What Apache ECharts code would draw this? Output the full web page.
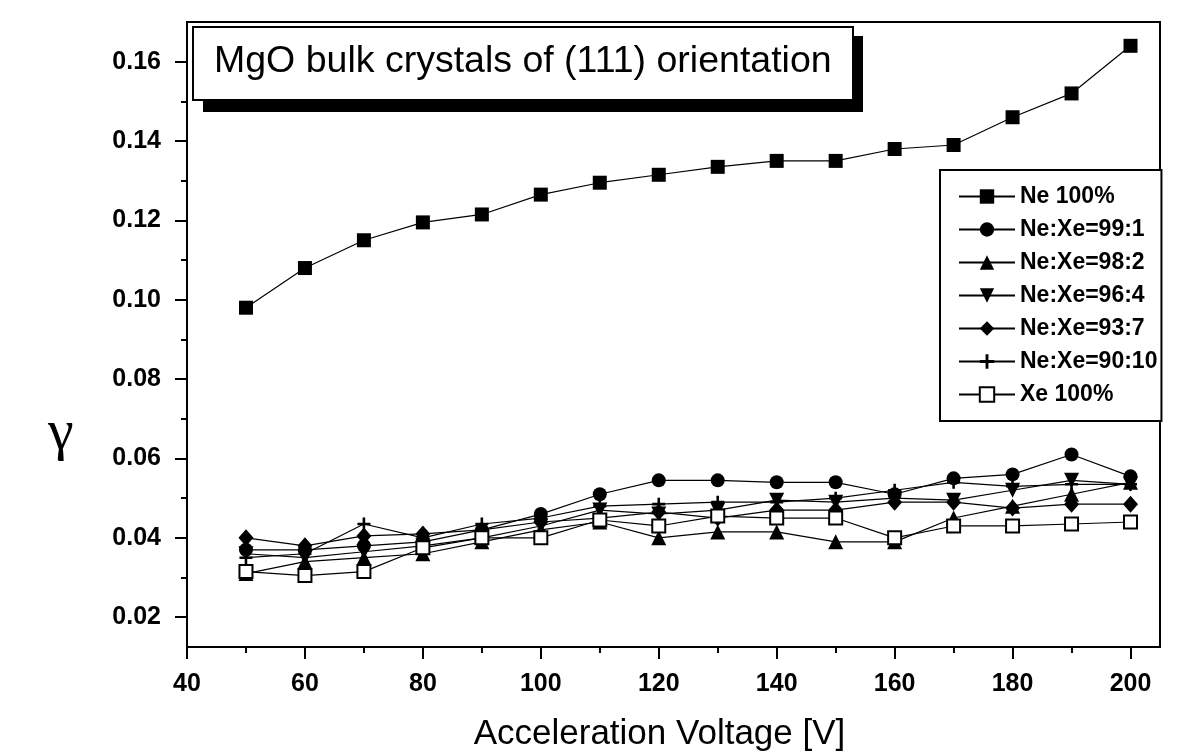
<!DOCTYPE html>
<html>
<head>
<meta charset="utf-8">
<script src="https://cdn.jsdelivr.net/npm/echarts@6/dist/echarts.min.js"></script>
<style>
  html, body { margin: 0; padding: 0; background: #fff; }
  #chart { width: 1204px; height: 754px; }
</style>
</head>
<body>
<div id="chart"></div>
<script>
var voltage = [50, 60, 70, 80, 90, 100, 110, 120, 130, 140, 150, 160, 170, 180, 190, 200];
var ne100 = [0.098, 0.108, 0.115, 0.1195, 0.1215, 0.1265, 0.1295, 0.1315, 0.1335, 0.135, 0.135, 0.138, 0.139, 0.146, 0.152, 0.164];
var r99_1 = [0.037, 0.037, 0.038, 0.039, 0.042, 0.046, 0.051, 0.0545, 0.0545, 0.054, 0.054, 0.051, 0.055, 0.056, 0.061, 0.0555];
var r98_2 = [0.031, 0.034, 0.035, 0.036, 0.039, 0.042, 0.044, 0.040, 0.0415, 0.0415, 0.039, 0.039, 0.045, 0.048, 0.051, 0.054];
var r96_4 = [0.036, 0.035, 0.0365, 0.038, 0.040, 0.043, 0.047, 0.046, 0.047, 0.0495, 0.049, 0.050, 0.0495, 0.052, 0.0545, 0.0535];
var r93_7 = [0.040, 0.038, 0.0405, 0.041, 0.042, 0.044, 0.045, 0.0465, 0.045, 0.047, 0.047, 0.049, 0.049, 0.0475, 0.0485, 0.0485];
var r90_10 = [0.035, 0.036, 0.0435, 0.040, 0.0435, 0.045, 0.048, 0.0485, 0.049, 0.049, 0.050, 0.052, 0.054, 0.053, 0.0535, 0.0535];
var xe100 = [0.0315, 0.0305, 0.0315, 0.0375, 0.040, 0.040, 0.0445, 0.043, 0.0455, 0.045, 0.045, 0.040, 0.043, 0.043, 0.0435, 0.044];

var xTicks = [40, 60, 80, 100, 120, 140, 160, 180, 200];
var xMinor = [50, 70, 90, 110, 130, 150, 170, 190];
var yTicks = [0.02, 0.04, 0.06, 0.08, 0.10, 0.12, 0.14, 0.16];
var yMinor = [0.03, 0.05, 0.07, 0.09, 0.11, 0.13, 0.15];

var FONT = 'Liberation Sans';
var plusPath = 'path://M4,0h2v4h4v2h-4v4h-2v-4h-4v-2h4z';

function pairs(ys) {
  return voltage.map(function (v, i) { return [v, ys[i]]; });
}

function mkSeries(name, ys, symbol, size, extra) {
  var s = {
    name: name,
    type: 'line',
    data: pairs(ys),
    symbol: symbol,
    symbolSize: size,
    showAllSymbol: true,
    lineStyle: { color: '#000', width: 1.2 },
    itemStyle: { color: '#000' },
    emphasis: { disabled: true }
  };
  for (var k in extra) s[k] = extra[k];
  return s;
}

var myChart = echarts.init(document.getElementById('chart'));
var option = {
  animation: false,
  backgroundColor: '#fff',
  grid: {
    left: 187, right: 44, top: 22, bottom: 107,
    outerBoundsMode: 'none',
    show: true, borderColor: '#000', borderWidth: 2, backgroundColor: 'transparent'
  },
  legend: {
    orient: 'vertical',
    left: 940,
    top: 170,
    padding: [15, 4, 15, 18],
    itemWidth: 56,
    itemHeight: 18,
    itemGap: 10,
    backgroundColor: '#fff',
    borderColor: '#000',
    borderWidth: 2,
    textStyle: { fontFamily: FONT, fontSize: 23, fontWeight: 'bold', color: '#000', lineHeight: 23 },
    data: ['Ne 100%', 'Ne:Xe=99:1', 'Ne:Xe=98:2', 'Ne:Xe=96:4', 'Ne:Xe=93:7', 'Ne:Xe=90:10', 'Xe 100%']
  },
  xAxis: [{
    type: 'value',
    min: 40, max: 205,
    axisLine: { lineStyle: { color: '#000', width: 2 } },
    axisTick: { customValues: xTicks, length: 12, lineStyle: { color: '#000', width: 2 } },
    axisLabel: { customValues: xTicks, margin: 25, fontFamily: FONT, fontSize: 25, fontWeight: 'bold', color: '#000' },
    splitLine: { show: false },
    name: 'Acceleration Voltage [V]',
    nameLocation: 'middle',
    nameGap: 70,
    nameTextStyle: { fontFamily: FONT, fontSize: 35, color: '#000', padding: [0, 28, 0, 0] }
  }, {
    type: 'value',
    min: 40, max: 205,
    position: 'bottom',
    axisLine: { show: false },
    axisTick: { customValues: xMinor, length: 6, lineStyle: { color: '#000', width: 2 } },
    axisLabel: { show: false },
    splitLine: { show: false }
  }],
  yAxis: [{
    type: 'value',
    min: 0.0125, max: 0.17,
    axisLine: { show: true, lineStyle: { color: '#000', width: 2 } },
    axisTick: { show: true, customValues: yTicks, length: 12, lineStyle: { color: '#000', width: 2 } },
    axisLabel: {
      customValues: yTicks, margin: 26, fontFamily: FONT, fontSize: 25, fontWeight: 'bold', color: '#000',
      formatter: function (v) { return v.toFixed(2); }
    },
    splitLine: { show: false }
  }, {
    type: 'value',
    min: 0.0125, max: 0.17,
    position: 'left',
    axisLine: { show: false },
    axisTick: { show: true, customValues: yMinor, length: 6, lineStyle: { color: '#000', width: 2 } },
    axisLabel: { show: false },
    splitLine: { show: false }
  }],
  graphic: [
    { type: 'rect', left: 203, top: 36, shape: { width: 660, height: 76 }, style: { fill: '#000' }, z: 100 },
    { type: 'rect', left: 192, top: 26, shape: { width: 660, height: 73 }, style: { fill: '#fff', stroke: '#000', lineWidth: 2 }, z: 101 },
    { type: 'text', left: 214, top: 43, style: { text: 'MgO bulk crystals of (111) orientation', font: '37.5px "Liberation Sans"', fill: '#000' }, z: 102 },
    { type: 'text', left: 48, top: 405, style: { text: 'γ', font: '58px "Liberation Serif"', fill: '#000' }, z: 102 }
  ],
  series: [
    mkSeries('Ne 100%', ne100, 'rect', 14),
    mkSeries('Ne:Xe=99:1', r99_1, 'circle', 14),
    mkSeries('Ne:Xe=98:2', r98_2, 'triangle', 15),
    mkSeries('Ne:Xe=96:4', r96_4, 'triangle', 15, { symbolRotate: 180 }),
    mkSeries('Ne:Xe=93:7', r93_7, 'diamond', [15, 17]),
    mkSeries('Ne:Xe=90:10', r90_10, plusPath, 13),
    mkSeries('Xe 100%', xe100, 'rect', 13, { itemStyle: { color: '#fff', borderColor: '#000', borderWidth: 2 } })
  ]
};
myChart.setOption(option);
window.addEventListener('resize', function () {
  myChart.resize();
});
</script>
</body>
</html>
